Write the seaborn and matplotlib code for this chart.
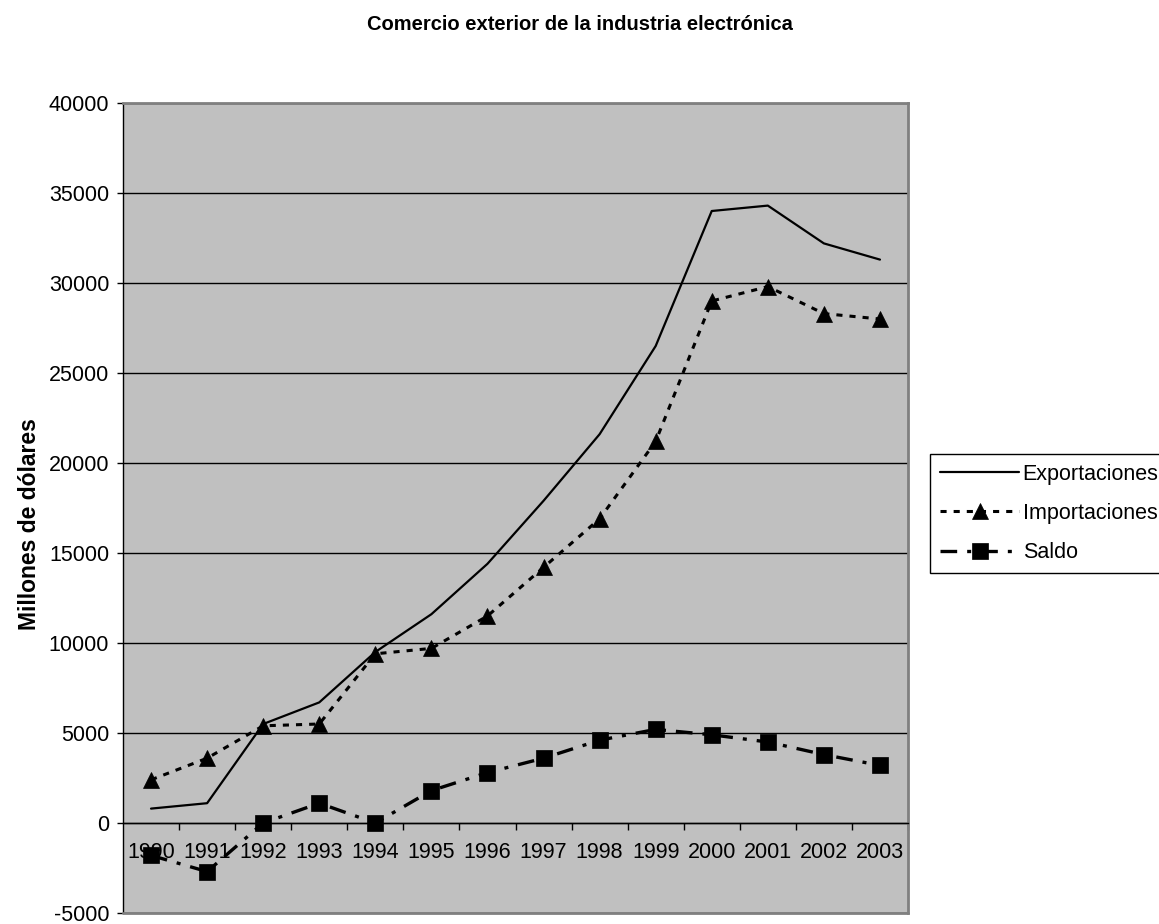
import pandas as pd
import seaborn as sns
import matplotlib.pyplot as plt
from matplotlib.ticker import FixedLocator, NullFormatter

# data (millones de dólares)
years = list(range(1990, 2004))
exportaciones = [800, 1100, 5500, 6700, 9500, 11600, 14400, 17900, 21600, 26500, 34000, 34300, 32200, 31300]
importaciones = [2400, 3600, 5400, 5500, 9400, 9700, 11500, 14200, 16900, 21200, 29000, 29800, 28300, 28000]
saldo = [-1800, -2700, 0, 1100, 0, 1800, 2800, 3600, 4600, 5200, 4900, 4500, 3800, 3200]

df = pd.DataFrame({'Año': years, 'Exportaciones': exportaciones,
                   'Importaciones': importaciones, 'Saldo': saldo})

sns.set_style('white')
plt.rcParams['font.family'] = ['Liberation Sans', 'DejaVu Sans']
plt.rcParams['text.color'] = 'black'
plt.rcParams['xtick.color'] = 'black'
plt.rcParams['ytick.color'] = 'black'
plt.rcParams['axes.labelcolor'] = 'black'
plt.rcParams['axes.unicode_minus'] = False

fig = plt.figure(figsize=(11.59, 9.24), dpi=100)
ax = fig.add_axes([123 / 1159, 1 - 913 / 924, 785 / 1159, 810 / 924])
ax.set_facecolor('#C0C0C0')

# horizontal gridlines
for v in range(-5000, 40001, 5000):
    ax.axhline(v, color='black', lw=1, zorder=1)

sns.lineplot(data=df, x='Año', y='Exportaciones', ax=ax, color='black', lw=1.6,
             label='Exportaciones', zorder=3)
sns.lineplot(data=df, x='Año', y='Importaciones', ax=ax, color='black', lw=2.2,
             linestyle=(0, (2, 2.3)), marker='^', markersize=11,
             markeredgecolor='black', markeredgewidth=0.5,
             label='Importaciones', zorder=3)
sns.lineplot(data=df, x='Año', y='Saldo', ax=ax, color='black', lw=2.4,
             linestyle=(0, (5, 3, 1.2, 3)), marker='s', markersize=11,
             markeredgecolor='black', markeredgewidth=0.5,
             label='Saldo', zorder=3)

ax.set_xlim(1989.5, 2003.5)
ax.set_ylim(-5000, 40000)
ax.set_yticks(range(-5000, 40001, 5000))
ax.tick_params(axis='y', labelsize=15.5, length=4, width=1, direction='out',
               pad=6, left=True)

# x axis sits at zero, ticks between categories, labels under each year
ax.spines['bottom'].set_position(('data', 0))
ax.xaxis.set_major_locator(FixedLocator([y + 0.5 for y in years[:-1]] + [2003.5]))
ax.xaxis.set_major_formatter(NullFormatter())
ax.xaxis.set_minor_locator(FixedLocator(years))
ax.set_xticklabels([str(y) for y in years], minor=True)
ax.tick_params(axis='x', which='major', length=5, width=1, direction='out', bottom=True)
ax.tick_params(axis='x', which='minor', length=0, labelsize=15.5, pad=14)

for s in ['left', 'bottom']:
    ax.spines[s].set_color('black')
    ax.spines[s].set_linewidth(1)
for s in ['top', 'right']:
    ax.spines[s].set_color('#808080')
    ax.spines[s].set_linewidth(2)
ax.axhline(-5000, color='#808080', lw=2, zorder=4, clip_on=False)

ax.set_xlabel('')
ax.set_ylabel('Millones de dólares', fontsize=16.5, fontweight='bold')
ax.yaxis.set_label_coords(-0.104, 0.48)

fig.text(0.5, 1 - 25 / 924, 'Comercio exterior de la industria electrónica',
         ha='center', va='center', fontsize=14.5, fontweight='bold')

handles, labels = ax.get_legend_handles_labels()
ax.legend(handles, labels, loc='upper left', bbox_to_anchor=(930 / 1159, 1 - 454 / 924),
          bbox_transform=fig.transFigure, borderaxespad=0, frameon=True,
          fancybox=False, edgecolor='black', facecolor='white', framealpha=1,
          fontsize=15.5, handlelength=3.7, handletextpad=0.15, labelspacing=0.85,
          borderpad=0.45)
ax.get_legend().get_frame().set_linewidth(1)

plt.savefig('out.png', dpi=100)
plt.close()
